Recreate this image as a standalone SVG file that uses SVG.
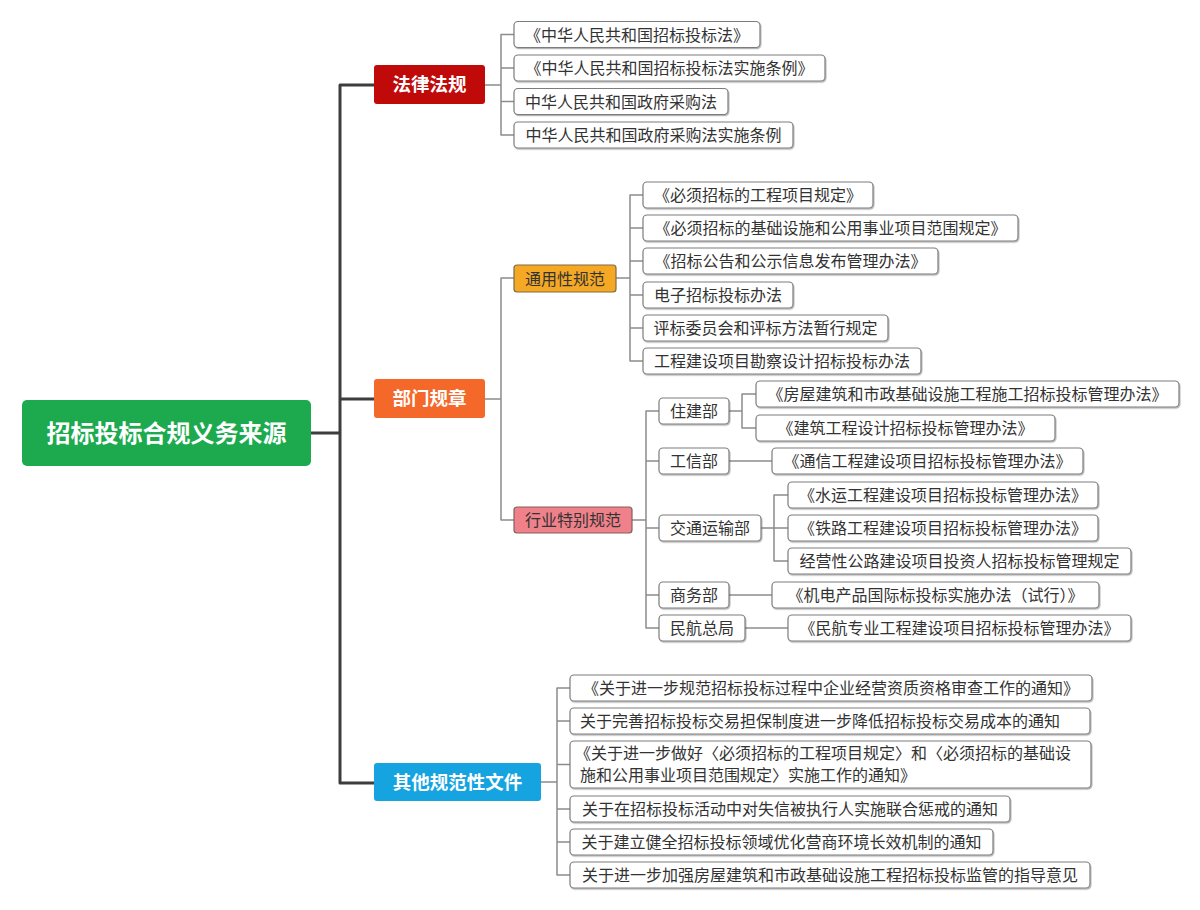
<svg xmlns="http://www.w3.org/2000/svg" width="1200" height="910" viewBox="0 0 1200 910">
<defs>
<filter id="sh" x="-5%" y="-20%" width="110%" height="150%">
<feDropShadow dx="0.8" dy="1.2" stdDeviation="0.7" flood-color="#000" flood-opacity="0.3"/>
</filter>
</defs>
<style>
text{font-family:"Noto Sans CJK SC","Noto Sans",sans-serif}
.leaf{fill:#ffffff;stroke:#7d7d7d;stroke-width:1.2;filter:url(#sh)}
.t{font-size:16px;fill:#333333;text-anchor:middle}
.tl{font-size:16px;fill:#333333}
.main{font-size:18.5px;font-weight:bold;fill:#ffffff;text-anchor:middle}
.root{font-size:24px;font-weight:bold;fill:#ffffff;text-anchor:middle}
.trunk{fill:none;stroke:#3d3d3d;stroke-width:3;stroke-linejoin:round}
.conn{fill:none;stroke:#8c8c8c;stroke-width:1.5;stroke-linejoin:round}
</style>
<rect width="1200" height="910" fill="#ffffff"/>
<g id="connectors">
<path class="trunk" d="M374 85 H340 V783 H374 M311 433 H340 M340 399 H374"/>
<path class="conn" d="M485 85 H501 M514 34.5 H501 V135 H514 M501 68 H514 M501 101.5 H514"/>
<path class="conn" d="M485 399 H501 M514 278 H501 V520 H514"/>
<path class="conn" d="M616 278 H630 M643 195 H630 V361 H643 M630 228 H643 M630 261 H643 M630 295 H643 M630 328 H643"/>
<path class="conn" d="M632 520 H646 M659 411 H646 V628 H659 M646 461 H659 M646 528 H659 M646 595 H659"/>
<path class="conn" d="M729 411 H742 M756 394 H742 V428 H756"/>
<path class="conn" d="M729 461 H772"/>
<path class="conn" d="M761 528 H788 M788 495 H774 V561 H788"/>
<path class="conn" d="M729 595 H772"/>
<path class="conn" d="M745 628 H788"/>
<path class="conn" d="M541 782 H557 M570 688 H557 V875 H570 M557 721 H570 M557 764.5 H570 M557 809 H570 M557 842 H570"/>
</g>
<g id="root">
<rect x="22" y="400" width="289" height="66" rx="5" fill="#1daa4f"/>
<text class="root" x="166.5" y="441.5">招标投标合规义务来源</text>
</g>
<g id="n-falv">
<rect x="374" y="65" width="111" height="39" rx="3" fill="#c00a0a"/>
<text class="main" x="429.5" y="91.2">法律法规</text>
</g>
<g id="n-bumen">
<rect x="374" y="379" width="111" height="39" rx="3" fill="#f4682a"/>
<text class="main" x="429.5" y="405.2">部门规章</text>
</g>
<g id="n-qita">
<rect x="374" y="763" width="167" height="38" rx="3" fill="#16a4e0"/>
<text class="main" x="457.5" y="788.7">其他规范性文件</text>
</g>
<g id="n-tongyong">
<rect x="514" y="265" width="102" height="27" rx="3" fill="#f5a824" stroke="#806a45" stroke-width="1.2"/>
<text class="t" x="565" y="284.5">通用性规范</text>
</g>
<g id="n-hangye">
<rect x="514" y="507" width="118" height="26" rx="3" fill="#f0818a" stroke="#806060" stroke-width="1.2"/>
<text class="t" x="573" y="526">行业特别规范</text>
</g>
<g id="l-falv-1"><rect class="leaf" x="514" y="21.5" width="246" height="26" rx="4"/><text class="t" x="637" y="40.5">《中华人民共和国招标投标法》</text></g>
<g id="l-falv-2"><rect class="leaf" x="514" y="55" width="311" height="26" rx="4"/><text class="t" x="669.5" y="74">《中华人民共和国招标投标法实施条例》</text></g>
<g id="l-falv-3"><rect class="leaf" x="514" y="88.5" width="214" height="26" rx="4"/><text class="t" x="621" y="107.5">中华人民共和国政府采购法</text></g>
<g id="l-falv-4"><rect class="leaf" x="514" y="122" width="279" height="26" rx="4"/><text class="t" x="653.5" y="141">中华人民共和国政府采购法实施条例</text></g>
<g id="l-ty-1"><rect class="leaf" x="643" y="182" width="230" height="26" rx="4"/><text class="t" x="758" y="201">《必须招标的工程项目规定》</text></g>
<g id="l-ty-2"><rect class="leaf" x="643" y="215" width="375" height="26" rx="4"/><text class="t" x="830.5" y="234">《必须招标的基础设施和公用事业项目范围规定》</text></g>
<g id="l-ty-3"><rect class="leaf" x="643" y="248" width="295" height="26" rx="4"/><text class="t" x="790.5" y="267">《招标公告和公示信息发布管理办法》</text></g>
<g id="l-ty-4"><rect class="leaf" x="643" y="282" width="150" height="26" rx="4"/><text class="t" x="718" y="301">电子招标投标办法</text></g>
<g id="l-ty-5"><rect class="leaf" x="643" y="315" width="245" height="26" rx="4"/><text class="t" x="765.5" y="334">评标委员会和评标方法暂行规定</text></g>
<g id="l-ty-6"><rect class="leaf" x="643" y="348" width="278" height="26" rx="4"/><text class="t" x="782" y="367">工程建设项目勘察设计招标投标办法</text></g>
<g id="d-zhujian"><rect class="leaf" x="659" y="398" width="70" height="26" rx="4"/><text class="t" x="694" y="417">住建部</text></g>
<g id="d-gongxin"><rect class="leaf" x="659" y="448" width="70" height="26" rx="4"/><text class="t" x="694" y="467">工信部</text></g>
<g id="d-jiaotong"><rect class="leaf" x="659" y="515" width="102" height="26" rx="4"/><text class="t" x="710" y="534">交通运输部</text></g>
<g id="d-shangwu"><rect class="leaf" x="659" y="582" width="70" height="26" rx="4"/><text class="t" x="694" y="601">商务部</text></g>
<g id="d-minhang"><rect class="leaf" x="659" y="615" width="86" height="26" rx="4"/><text class="t" x="702" y="634">民航总局</text></g>
<g id="l-zj-1"><rect class="leaf" x="756" y="381" width="423" height="26" rx="4"/><text class="t" x="967.5" y="400">《房屋建筑和市政基础设施工程施工招标投标管理办法》</text></g>
<g id="l-zj-2"><rect class="leaf" x="756" y="415" width="299" height="26" rx="4"/><text class="t" x="905.5" y="434">《建筑工程设计招标投标管理办法》</text></g>
<g id="l-gx-1"><rect class="leaf" x="772" y="448" width="311" height="26" rx="4"/><text class="t" x="927.5" y="467">《通信工程建设项目招标投标管理办法》</text></g>
<g id="l-jt-1"><rect class="leaf" x="788" y="482" width="310" height="26" rx="4"/><text class="t" x="943" y="501">《水运工程建设项目招标投标管理办法》</text></g>
<g id="l-jt-2"><rect class="leaf" x="788" y="515" width="310" height="26" rx="4"/><text class="t" x="943" y="534">《铁路工程建设项目招标投标管理办法》</text></g>
<g id="l-jt-3"><rect class="leaf" x="788" y="548" width="343" height="26" rx="4"/><text class="t" x="959.5" y="567">经营性公路建设项目投资人招标投标管理规定</text></g>
<g id="l-sw-1"><rect class="leaf" x="772" y="582" width="327" height="26" rx="4"/><text class="t" x="935.5" y="601">《机电产品国际标投标实施办法（试行）》</text></g>
<g id="l-mh-1"><rect class="leaf" x="788" y="615" width="343" height="26" rx="4"/><text class="t" x="959.5" y="634">《民航专业工程建设项目招标投标管理办法》</text></g>
<g id="l-qt-1"><rect class="leaf" x="570" y="675" width="522" height="26" rx="4"/><text class="t" x="831" y="694">《关于进一步规范招标投标过程中企业经营资质资格审查工作的通知》</text></g>
<g id="l-qt-2"><rect class="leaf" x="570" y="708" width="520" height="26" rx="4"/><text class="tl" x="580" y="727">关于完善招标投标交易担保制度进一步降低招标投标交易成本的通知</text></g>
<g id="l-qt-3"><rect class="leaf" x="570" y="741" width="521" height="47" rx="4"/><text class="tl" x="575" y="759">《关于进一步做好〈必须招标的工程项目规定〉和〈必须招标的基础设</text><text class="tl" x="580" y="781">施和公用事业项目范围规定〉实施工作的通知》</text></g>
<g id="l-qt-4"><rect class="leaf" x="570" y="796" width="440" height="26" rx="4"/><text class="t" x="790" y="815">关于在招标投标活动中对失信被执行人实施联合惩戒的通知</text></g>
<g id="l-qt-5"><rect class="leaf" x="570" y="829" width="423" height="26" rx="4"/><text class="t" x="781.5" y="848">关于建立健全招标投标领域优化营商环境长效机制的通知</text></g>
<g id="l-qt-6"><rect class="leaf" x="570" y="862" width="520" height="26" rx="4"/><text class="t" x="830" y="881">关于进一步加强房屋建筑和市政基础设施工程招标投标监管的指导意见</text></g>
</svg>
